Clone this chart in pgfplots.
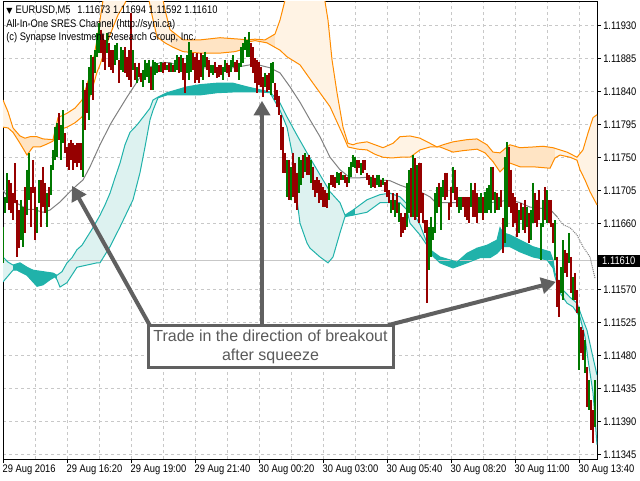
\documentclass[border=0pt]{standalone}
\usepackage{fontspec}
\setmainfont{Liberation Sans}
\newfontfamily\mtfont[FakeStretch=0.85]{Liberation Sans}
\newfontfamily\dejavu{DejaVu Sans}
\usepackage{pgfplots}
\pgfplotsset{compat=1.18}
\usepackage{pgfplotstable}
\usepgfplotslibrary{fillbetween}
\usetikzlibrary{arrows.meta}
\definecolor{upc}{HTML}{007800}
\definecolor{dnc}{HTML}{960000}
\definecolor{orl}{HTML}{FF8C00}
\definecolor{orfill}{HTML}{FFE4C4}
\definecolor{orhatch}{HTML}{FFF3E4}
\definecolor{tel}{HTML}{20B2AA}
\definecolor{telhatch}{HTML}{DDF2F0}
\definecolor{gridc}{HTML}{C8C8C8}
\definecolor{annc}{HTML}{606060}
\definecolor{anntext}{HTML}{5A5A5A}

\pgfplotstableread{
i p
0 1.11829
2.5 1.11813
5 1.11791
8.5 1.11780
11 1.11777
13.5 1.11779
17 1.11779
20 1.11776
25 1.11775
27.5 1.11805
32 1.11811
36 1.11818
39.5 1.11829
42 1.11850
44.5 1.11874
47 1.11911
48.5 1.11938
50 1.11965
51.5 1.11993
53.5 1.12020
73.5 1.12020
78.5 1.11986
81 1.11952
83.5 1.11925
90 1.11911
98.5 1.11911
108.5 1.11914
118.5 1.11912
122 1.11911
126 1.11912
131 1.11911
136 1.11919
138.5 1.11938
141 1.11965
143.5 1.11993
148.5 1.12020
158.5 1.12006
162.5 1.11938
164.5 1.11884
167 1.11839
170 1.11792
172.5 1.11770
175 1.11768
177 1.11770
182 1.11772
186 1.11768
190 1.11764
195 1.11770
198.5 1.11779
203.5 1.11780
208.5 1.11777
213.5 1.11770
217 1.11765
220 1.11768
225 1.11772
232 1.11775
237 1.11776
242 1.11768
245 1.11758
248.5 1.11757
252 1.11765
253.5 1.11768
258.5 1.11764
265 1.11765
270 1.11766
275 1.11764
278.5 1.11761
282 1.11758
287 1.11751
290 1.11761
292.5 1.11784
295 1.11805
297 1.11809
}\oT

\pgfplotstableread{
i p
0 1.11792
2.5 1.11791
5 1.11785
8.5 1.11770
12 1.11754
15 1.11765
18.5 1.11765
22 1.11769
25 1.11773
27.5 1.11788
32 1.11792
36 1.11798
39.5 1.11806
42 1.11822
44.5 1.11843
47 1.11867
48.5 1.11877
51 1.11897
53.5 1.11918
57.5 1.11945
61 1.11961
63.5 1.11979
68.5 1.12000
72.5 1.11972
74.5 1.11945
77 1.11915
81 1.11907
85 1.11901
90 1.11895
98.5 1.11893
108.5 1.11893
116 1.11895
118.5 1.11897
122 1.11908
126 1.11910
132 1.11907
138.5 1.11897
142 1.11888
148.5 1.11877
155 1.11852
163.5 1.11820
170 1.11781
172.5 1.11765
177.5 1.11762
182 1.11761
186 1.11755
190 1.11751
194.5 1.11750
198.5 1.11751
203.5 1.11751
208.5 1.11761
213.5 1.11765
218.5 1.11765
225 1.11758
230 1.11760
237 1.11762
241 1.11757
245 1.11745
248.5 1.11731
251 1.11738
253.5 1.11743
258.5 1.11738
265 1.11738
273.5 1.11736
276 1.11750
278.5 1.11754
283.5 1.11751
287 1.11747
288.5 1.11734
291 1.11720
293.5 1.11704
297 1.11686
}\oB

\pgfplotstableread{
i p
0 1.11615
2.5 1.11608
5 1.11604
8.5 1.11607
12 1.11601
15 1.11597
20 1.11595
25 1.11593
27 1.11590
29.5 1.11595
32 1.11607
34.5 1.11614
37 1.11625
39.5 1.11631
42 1.11642
45 1.11655
48.5 1.11672
51 1.11686
53.5 1.11702
56 1.11723
58.5 1.11743
61 1.11768
63.5 1.11785
67 1.11795
71 1.11809
73.5 1.11818
75 1.11829
77.5 1.11833
82 1.11839
87 1.11843
92 1.11847
98.5 1.11850
107 1.11852
115 1.11852
122 1.11847
128.5 1.11843
133.5 1.11840
138.5 1.11825
142 1.11806
147 1.11781
152 1.11757
158.5 1.11727
163.5 1.11704
168.5 1.11689
171 1.11672
175 1.11679
182 1.11693
188.5 1.11700
193.5 1.11702
198.5 1.11697
203.5 1.11683
208.5 1.11659
212 1.11634
213.5 1.11625
218.5 1.11615
223.5 1.11611
227 1.11608
232 1.11620
237 1.11627
242 1.11631
247 1.11638
248.5 1.11655
250 1.11648
253.5 1.11645
258.5 1.11638
265 1.11629
273.5 1.11622
275 1.11611
276 1.11593
277 1.11586
280 1.11570
283.5 1.11560
287 1.11552
289.5 1.11533
292 1.11515
294.5 1.11484
297 1.11454
}\tT

\pgfplotstableread{
i p
0 1.11581
2.5 1.11589
5 1.11597
7 1.11597
12 1.11590
17 1.11575
20 1.11577
23.5 1.11584
26 1.11588
27 1.11584
28.5 1.11574
32 1.11580
37 1.11601
42 1.11604
47 1.11607
48.5 1.11607
53.5 1.11629
58.5 1.11656
65 1.11693
68.5 1.11730
71 1.11765
73.5 1.11802
75 1.11815
77.5 1.11832
82 1.11836
87 1.11836
92 1.11836
98.5 1.11836
107 1.11839
115 1.11840
123.5 1.11840
128.5 1.11840
133.5 1.11839
138.5 1.11815
142 1.11792
145 1.11751
147 1.11693
148.5 1.11661
152 1.11634
153.5 1.11627
158.5 1.11615
162.5 1.11607
165 1.11615
168.5 1.11648
171 1.11670
175 1.11672
182 1.11676
188.5 1.11689
193.5 1.11689
198.5 1.11689
202 1.11679
203.5 1.11661
208.5 1.11645
212 1.11631
213.5 1.11620
218.5 1.11607
225 1.11600
232 1.11607
238.5 1.11614
243.5 1.11614
247 1.11620
250 1.11629
253.5 1.11629
258.5 1.11622
265 1.11615
272 1.11611
275 1.11600
276 1.11588
278.5 1.11566
282 1.11552
285 1.11547
288.5 1.11533
291 1.11506
292.5 1.11475
295 1.11430
297 1.11359
}\tB

\pgfplotstableread{
i p
0 1.11706
3.5 1.11693
8.5 1.11686
12 1.11680
15 1.11680
20 1.11676
23.5 1.11679
28.5 1.11690
33.5 1.11704
37 1.11713
40 1.11720
43.5 1.11738
48.5 1.11768
53.5 1.11795
55 1.11802
62 1.11833
68.5 1.11860
73.5 1.11874
78.5 1.11880
83.5 1.11880
88.5 1.11875
93.5 1.11874
98.5 1.11873
108.5 1.11873
115 1.11873
123.5 1.11877
127.5 1.11877
133.5 1.11873
138.5 1.11866
143.5 1.11847
148.5 1.11826
153.5 1.11802
158.5 1.11779
163.5 1.11751
168.5 1.11734
173.5 1.11723
178.5 1.11723
183.5 1.11724
188.5 1.11720
193.5 1.11719
198.5 1.11713
203.5 1.11708
208.5 1.11704
213.5 1.11697
216 1.11690
220 1.11689
232 1.11689
237 1.11690
242 1.11689
247 1.11690
253.5 1.11693
258.5 1.11689
263.5 1.11683
273.5 1.11680
277 1.11670
}\grayA

\pgfplotstableread{
i p
277 1.11670
280 1.11659
283.5 1.11655
287 1.11645
290 1.11629
293.5 1.11615
296 1.11586
}\grayB

\pgfplotstableread{
i h l
0 1.11656 1.11607
1 1.11697 1.11675
2 1.11729 1.11689
9 1.11693 1.11638
10 1.11683 1.11629
12 1.11734 1.11672
13 1.11757 1.11693
17 1.11683 1.11648
18 1.11720 1.11689
22 1.11702 1.11656
24 1.11740 1.11700
25 1.11761 1.11734
26 1.11792 1.11747
27 1.11798 1.11751
29 1.11795 1.11747
30 1.11815 1.11770
40 1.11856 1.11724
43 1.11874 1.11802
44 1.11890 1.11836
46 1.11897 1.11866
47 1.11920 1.11888
48 1.11934 1.11893
52 1.11920 1.11893
56 1.11904 1.11877
57 1.11907 1.11884
59 1.11901 1.11870
60 1.11897 1.11867
65 1.11897 1.11870
67 1.11874 1.11852
70 1.11870 1.11847
71 1.11884 1.11856
72 1.11880 1.11860
73 1.11884 1.11852
75 1.11884 1.11843
76 1.11881 1.11863
77 1.11880 1.11866
79 1.11881 1.11867
82 1.11877 1.11870
84 1.11880 1.11867
86 1.11884 1.11867
87 1.11890 1.11870
89 1.11890 1.11867
92 1.11890 1.11866
93 1.11908 1.11856
94 1.11897 1.11867
100 1.11890 1.11856
101 1.11895 1.11874
104 1.11877 1.11866
105 1.11877 1.11863
110 1.11874 1.11856
111 1.11884 1.11867
114 1.11884 1.11867
115 1.11890 1.11874
118 1.11880 1.11856
119 1.11901 1.11874
120 1.11907 1.11880
121 1.11915 1.11897
122 1.11911 1.11888
123 1.11922 1.11888
131 1.11866 1.11847
134 1.11880 1.11836
135 1.11881 1.11852
142 1.11747 1.11697
144 1.11738 1.11693
148 1.11751 1.11702
149 1.11747 1.11713
151 1.11757 1.11731
154 1.11747 1.11716
163 1.11716 1.11693
167 1.11731 1.11716
168 1.11730 1.11713
170 1.11727 1.11720
173 1.11738 1.11716
174 1.11745 1.11724
175 1.11754 1.11738
176 1.11751 1.11736
179 1.11743 1.11727
184 1.11724 1.11709
187 1.11727 1.11713
188 1.11727 1.11710
190 1.11723 1.11713
194 1.11693 1.11675
196 1.11693 1.11670
198 1.11689 1.11663
202 1.11716 1.11656
203 1.11734 1.11675
205 1.11754 1.11670
207 1.11740 1.11670
213 1.11656 1.11597
214 1.11670 1.11615
215 1.11656 1.11638
216 1.11702 1.11648
217 1.11710 1.11675
219 1.11710 1.11652
220 1.11720 1.11697
225 1.11738 1.11702
228 1.11697 1.11675
229 1.11697 1.11679
234 1.11716 1.11683
238 1.11697 1.11675
239 1.11702 1.11675
241 1.11704 1.11675
242 1.11709 1.11675
243 1.11713 1.11679
244 1.11738 1.11675
246 1.11704 1.11675
248 1.11697 1.11679
251 1.11751 1.11634
252 1.11772 1.11656
258 1.11679 1.11648
260 1.11683 1.11652
262 1.11683 1.11656
264 1.11679 1.11638
265 1.11716 1.11661
269 1.11661 1.11611
270 1.11693 1.11656
272 1.11706 1.11661
276 1.11665 1.11611
279 1.11601 1.11566
280 1.11638 1.11556
283 1.11648 1.11607
285 1.11588 1.11556
288 1.11547 1.11461
291 1.11502 1.11457
293 1.11447 1.11406
296 1.11447 1.11383
}\upbars

\pgfplotstableread{
i h l
3 1.11720 1.11679
4 1.11716 1.11675
5 1.11702 1.11665
6 1.11743 1.11689
7 1.11693 1.11615
8 1.11679 1.11627
11 1.11710 1.11648
14 1.11710 1.11656
15 1.11747 1.11702
16 1.11710 1.11638
19 1.11720 1.11656
20 1.11738 1.11683
21 1.11716 1.11675
23 1.11710 1.11683
28 1.11811 1.11775
31 1.11784 1.11757
32 1.11765 1.11738
33 1.11770 1.11734
34 1.11775 1.11747
35 1.11770 1.11734
36 1.11768 1.11743
37 1.11770 1.11738
38 1.11770 1.11743
39 1.11770 1.11734
41 1.11843 1.11788
42 1.11852 1.11811
45 1.11888 1.11829
49 1.11925 1.11893
50 1.11918 1.11881
51 1.11911 1.11870
53 1.11907 1.11874
54 1.11897 1.11870
55 1.11897 1.11866
58 1.11884 1.11852
61 1.11901 1.11866
62 1.11888 1.11860
63 1.11897 1.11856
64 1.11948 1.11847
66 1.11880 1.11856
68 1.11880 1.11860
69 1.11866 1.11854
74 1.11874 1.11843
78 1.11877 1.11867
80 1.11880 1.11866
81 1.11881 1.11870
83 1.11880 1.11867
85 1.11877 1.11867
88 1.11888 1.11866
90 1.11886 1.11856
91 1.11880 1.11839
95 1.11893 1.11870
96 1.11888 1.11852
97 1.11893 1.11856
98 1.11884 1.11852
99 1.11893 1.11860
102 1.11888 1.11870
103 1.11884 1.11860
106 1.11881 1.11866
107 1.11874 1.11859
108 1.11877 1.11860
109 1.11877 1.11863
112 1.11880 1.11866
113 1.11877 1.11860
116 1.11881 1.11867
117 1.11884 1.11867
124 1.11907 1.11874
125 1.11901 1.11866
126 1.11886 1.11852
127 1.11884 1.11839
128 1.11881 1.11850
129 1.11874 1.11847
130 1.11860 1.11833
132 1.11863 1.11840
133 1.11866 1.11843
136 1.11852 1.11829
137 1.11843 1.11820
138 1.11835 1.11809
139 1.11809 1.11761
140 1.11792 1.11730
141 1.11757 1.11730
143 1.11747 1.11693
145 1.11757 1.11697
146 1.11743 1.11689
147 1.11730 1.11679
150 1.11754 1.11723
152 1.11751 1.11727
153 1.11754 1.11727
155 1.11738 1.11706
156 1.11720 1.11697
157 1.11724 1.11702
158 1.11720 1.11689
159 1.11716 1.11693
160 1.11710 1.11683
161 1.11706 1.11683
162 1.11702 1.11682
164 1.11727 1.11713
165 1.11727 1.11710
166 1.11724 1.11709
169 1.11731 1.11720
171 1.11727 1.11716
172 1.11724 1.11710
177 1.11747 1.11730
178 1.11747 1.11736
180 1.11747 1.11730
181 1.11747 1.11734
182 1.11730 1.11720
183 1.11727 1.11713
185 1.11727 1.11710
186 1.11723 1.11709
189 1.11720 1.11710
191 1.11717 1.11704
192 1.11720 1.11697
193 1.11706 1.11689
195 1.11702 1.11679
197 1.11702 1.11675
199 1.11675 1.11642
200 1.11670 1.11648
201 1.11675 1.11652
204 1.11736 1.11670
206 1.11750 1.11665
208 1.11743 1.11661
209 1.11743 1.11675
210 1.11702 1.11661
211 1.11665 1.11648
212 1.11665 1.11552
218 1.11716 1.11683
221 1.11730 1.11693
222 1.11730 1.11697
223 1.11689 1.11665
224 1.11710 1.11683
226 1.11734 1.11693
227 1.11710 1.11683
230 1.11697 1.11683
231 1.11697 1.11670
232 1.11697 1.11665
233 1.11697 1.11661
235 1.11706 1.11670
236 1.11716 1.11670
237 1.11702 1.11661
240 1.11697 1.11665
245 1.11738 1.11693
247 1.11702 1.11679
249 1.11706 1.11683
250 1.11668 1.11620
253 1.11765 1.11683
254 1.11734 1.11675
255 1.11702 1.11656
256 1.11697 1.11661
257 1.11689 1.11642
259 1.11689 1.11665
261 1.11693 1.11648
263 1.11675 1.11634
266 1.11702 1.11661
267 1.11693 1.11656
268 1.11706 1.11665
271 1.11710 1.11665
273 1.11693 1.11661
274 1.11693 1.11656
275 1.11661 1.11634
277 1.11615 1.11547
278 1.11584 1.11533
281 1.11625 1.11593
282 1.11620 1.11588
284 1.11615 1.11566
286 1.11593 1.11556
287 1.11570 1.11539
289 1.11520 1.11484
290 1.11515 1.11475
292 1.11465 1.11410
294 1.11420 1.11379
295 1.11406 1.11361
}\dnbars

\begin{document}
\begin{tikzpicture}
\begin{axis}[
  scale only axis, width=445.5pt, height=342.75pt,
  xmin=0, xmax=297, ymin=1.113395, ymax=1.119627,
  clip mode=individual,
  axis line style={line width=0.75pt, black},
  xtick={0,32,64,96,128,160,192,224,256,288},
  xticklabels={29 Aug 2016,29 Aug 16:20,29 Aug 19:00,29 Aug 21:40,30 Aug 00:20,30 Aug 03:00,30 Aug 05:40,30 Aug 08:20,30 Aug 11:00,30 Aug 13:40},
  minor xtick={16,48,80,112,144,176,208,240,272},
  ytick={1.11345,1.11390,1.11435,1.11480,1.11525,1.11570,1.11660,1.11705,1.11750,1.11795,1.11840,1.11885,1.11930},
  yticklabels={1.11345,1.11390,1.11435,1.11480,1.11525,1.11570,1.11660,1.11705,1.11750,1.11795,1.11840,1.11885,1.11930},
  scaled y ticks=false,
  xtick pos=bottom, ytick pos=right, yticklabel pos=right,
  tick align=outside,
  major tick length=3pt, minor tick length=0pt,
  tick style={black, line width=0.75pt},
  xmajorgrids, xminorgrids, ymajorgrids,
  major grid style={gridc, line width=0.75pt, dash pattern=on 2.25pt off 2.25pt},
  minor grid style={gridc, line width=0.75pt, dash pattern=on 2.25pt off 2.25pt},
  ticklabel style={font=\mtfont\fontsize{8.25}{10}\selectfont, text=black},
  xticklabel style={anchor=north west, inner sep=0pt, yshift=-1.2pt, xshift=-0.5pt},
  yticklabel style={anchor=west, inner sep=0pt, xshift=1.5pt},
]
% named boundary paths
\addplot[draw=none, name path=oT, forget plot] table[x=i,y=p] {\oT};
\addplot[draw=none, name path=oB, forget plot] table[x=i,y=p] {\oB};
\addplot[draw=none, name path=tT, forget plot] table[x=i,y=p] {\tT};
\addplot[draw=none, name path=tB, forget plot] table[x=i,y=p] {\tB};
% orange channel fills
\addplot[orhatch, draw=none] fill between[of=oT and oB, soft clip={domain=0:5}];
\addplot[orfill, draw=none] fill between[of=oT and oB, soft clip={domain=5:25}];
\addplot[orhatch, draw=none] fill between[of=oT and oB, soft clip={domain=25:84}];
\addplot[orfill, draw=none] fill between[of=oT and oB, soft clip={domain=84:136}];
\addplot[orhatch, draw=none] fill between[of=oT and oB, soft clip={domain=136:216}];
\addplot[orfill, draw=none] fill between[of=oT and oB, soft clip={domain=216:276}];
\addplot[orhatch, draw=none] fill between[of=oT and oB, soft clip={domain=276:297}];
% teal channel fills
\addplot[telhatch, draw=none] fill between[of=tT and tB, soft clip={domain=0:5}];
\addplot[tel, draw=none] fill between[of=tT and tB, soft clip={domain=5:27}];
\addplot[telhatch, draw=none] fill between[of=tT and tB, soft clip={domain=27:77.5}];
\addplot[tel, draw=none] fill between[of=tT and tB, soft clip={domain=77.5:134}];
\addplot[telhatch, draw=none] fill between[of=tT and tB, soft clip={domain=134:171}];
\addplot[tel, draw=none] fill between[of=tT and tB, soft clip={domain=171:176}];
\addplot[telhatch, draw=none] fill between[of=tT and tB, soft clip={domain=176:213.5}];
\addplot[tel, draw=none] fill between[of=tT and tB, soft clip={domain=213.5:276}];
\addplot[telhatch, draw=none] fill between[of=tT and tB, soft clip={domain=276:297}];
% current price line
\addplot[color=black!22, line width=0.75pt] coordinates {(0,1.11610) (297,1.11610)};
% channel lines
\addplot[orl, line width=0.75pt] table[x=i,y=p] {\oT};
\addplot[orl, line width=0.75pt] table[x=i,y=p] {\oB};
\addplot[tel, line width=0.75pt] table[x=i,y=p] {\tT};
\addplot[tel, line width=0.75pt] table[x=i,y=p] {\tB};
\addplot[color=black!50, line width=0.75pt] table[x=i,y=p] {\grayA};
\addplot[color=black!50, line width=0.75pt, dash pattern=on 0.75pt off 0.75pt] table[x=i,y=p] {\grayB};
% OHLC bars: a vertical stroke from high down to low
\addplot[draw=upc, line width=0.8pt, mark=none, quiver={u=0, v=\thisrow{l}-\thisrow{h}}]
  table[x=i, y=h] {\upbars};
\addplot[draw=dnc, line width=0.8pt, mark=none, quiver={u=0, v=\thisrow{l}-\thisrow{h}}]
  table[x=i, y=h] {\dnbars};
% annotation arrows
\draw[annc, line width=3pt, -{Triangle[length=11pt, width=12pt]}] (axis cs:76,1.11509) -- (axis cs:34.5,1.11712);
\draw[annc, line width=3pt, -{Triangle[length=11pt, width=12pt]}] (axis cs:129.5,1.11515) -- (axis cs:129.5,1.11828);
\draw[annc, line width=3pt, -{Triangle[length=11pt, width=12pt]}] (axis cs:192.5,1.11522) -- (axis cs:276.5,1.11581);
% callout box
\draw[annc, line width=2.25pt, fill=white] (axis cs:72.5,1.11522) rectangle (axis cs:195,1.11464);
\node[align=center, text=anntext, font=\fontsize{12}{14.25}\selectfont, inner sep=0pt] at (axis cs:133.75,1.11493) {Trade in the direction of breakout\\after squeeze};
% header text
\node[anchor=base west, inner sep=0pt, font=\mtfont\fontsize{8.25}{10}\selectfont] at (rel axis cs:0,1) [xshift=2.25pt, yshift=-9pt] {{\dejavu\fontsize{6}{6}\selectfont ▼}\hspace{2.4pt}EURUSD,M5\hspace{5pt}1.11673 1.11694 1.11592 1.11610};
\node[anchor=base west, inner sep=0pt, font=\mtfont\fontsize{8.25}{10}\selectfont] at (rel axis cs:0,1) [xshift=2.25pt, yshift=-19.1pt] {All-In-One SRES Channel (http://syni.ca)};
\node[anchor=base west, inner sep=0pt, font=\mtfont\fontsize{8.25}{10}\selectfont] at (rel axis cs:0,1) [xshift=2.25pt, yshift=-29.25pt] {(c) Synapse Investment Research Group, Inc.};
% current price label
\node[fill=black, text=white, anchor=west, inner xsep=3.3pt, inner ysep=0pt, minimum height=9pt, font=\mtfont\fontsize{8.25}{10}\selectfont] at ({rel axis cs:1,0} |- {axis cs:0,1.11610}) [xshift=0.4pt] {1.11610};
\end{axis}
\pgfresetboundingbox
\path[use as bounding box] ([xshift=-2.25pt,yshift=-15.75pt]current axis.south west) rectangle ([xshift=32.25pt,yshift=1.5pt]current axis.north east);
\end{tikzpicture}
\end{document}
